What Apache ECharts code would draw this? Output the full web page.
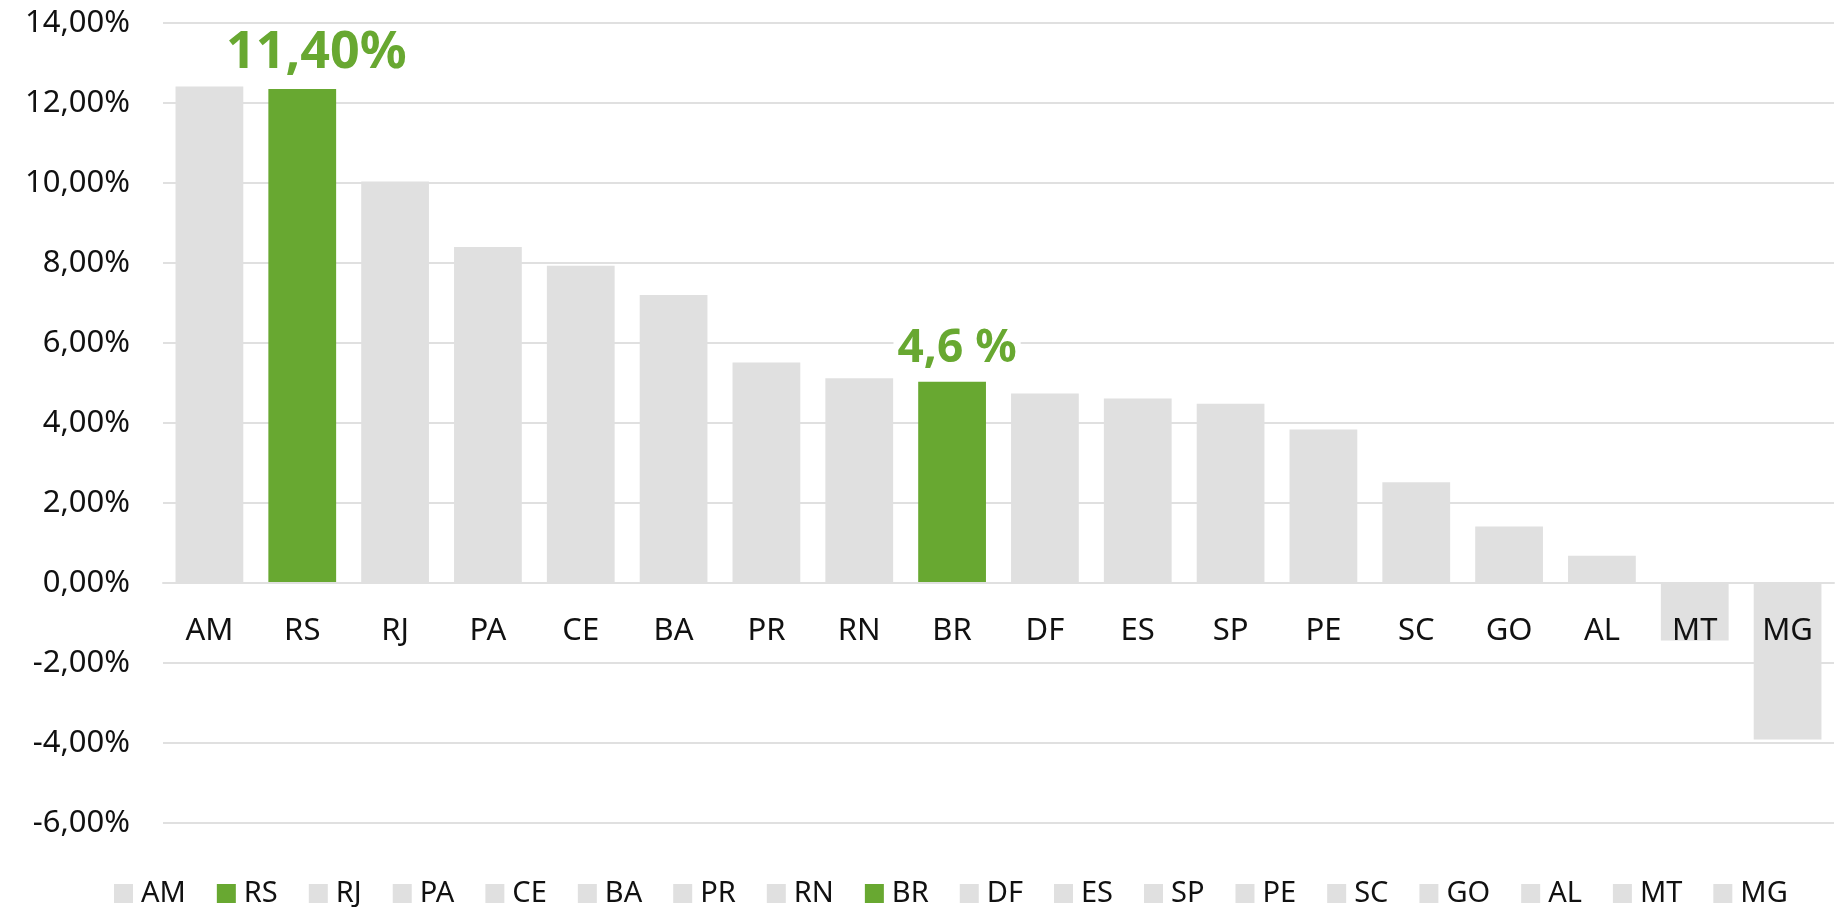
<!DOCTYPE html>
<html>
<head>
<meta charset="utf-8">
<script src="https://cdn.jsdelivr.net/npm/echarts@6/dist/echarts.min.js"></script>
<style>
  html, body { margin: 0; padding: 0; background: #fff; }
  #chart { width: 1835px; height: 907px; }
</style>
</head>
<body>
<div id="chart"></div>
<script>
// states, ordered as in the chart
const categories = ['AM', 'RS', 'RJ', 'PA', 'CE', 'BA', 'PR', 'RN', 'BR', 'DF', 'ES', 'SP', 'PE', 'SC', 'GO', 'AL', 'MT', 'MG']
// bar heights in percent
const values = [12.41, 12.35, 10.04, 8.40, 7.93, 7.20, 5.51, 5.12, 5.03, 4.74, 4.61, 4.48, 3.84, 2.52, 1.41, 0.68, -1.44, -3.91]
// highlighted states
const highlight = ['RS', 'BR']
// custom labels shown above highlighted bars
const labelTexts = { RS: '11,40%', BR: '4,6 %' }
const yTicks = [-6, -4, -2, 0, 2, 4, 6, 8, 10, 12, 14]

const GRAY = '#e0e0e0'
const GREEN = '#68a831'
const FONT = '"Noto Sans", sans-serif'

const chart = echarts.init(document.getElementById('chart'))

const series = categories.map((name, i) => {
  const isHi = highlight.includes(name)
  const data = categories.map((c, j) => (j === i ? values[i] : null))
  const s = {
    name: name,
    type: 'bar',
    stack: 'all',
    barCategoryGap: '27%',
    itemStyle: { color: isHi ? GREEN : GRAY },
    data: data,
    animation: false
  }
  if (isHi) {
    s.label = {
      show: true,
      position: 'top',
      distance: 10,
      offset: name === 'RS' ? [14, 0] : [5, 0],
      formatter: () => labelTexts[name],
      color: GREEN,
      fontFamily: FONT,
      fontWeight: 'bold',
      fontSize: name === 'RS' ? 52 : 46,
      lineHeight: name === 'RS' ? 52 : 46,
      backgroundColor: '#fff',
      padding: [0, 4]
    }
  }
  return s
})

// distance from the zero line to the grid bottom, so the category labels sit under zero
const gridTop = 23
const gridBottom = 84
const plotH = 907 - gridTop - gridBottom
const zeroOffset = plotH * (0 - yTicks[0]) / (yTicks[yTicks.length - 1] - yTicks[0])

chart.setOption({
  backgroundColor: '#fff',
  textStyle: { fontFamily: FONT },
  grid: {
    left: 163,
    right: 1,
    top: gridTop,
    bottom: gridBottom,
    containLabel: false
  },
  legend: {
    data: categories,
    left: 109,
    top: 874,
    icon: 'rect',
    itemWidth: 19,
    itemHeight: 19,
    itemGap: 31,
    textStyle: { fontSize: 29, color: '#111', fontFamily: FONT, padding: [0, 0, 0, 3] }
  },
  xAxis: {
    type: 'category',
    data: categories,
    offset: -zeroOffset,
    z: 5,
    axisLine: { show: true, onZero: false, lineStyle: { color: GRAY, width: 2 } },
    axisTick: { show: false },
    axisLabel: { color: '#111', fontSize: 31, margin: 33, fontFamily: FONT }
  },
  yAxis: {
    type: 'value',
    min: yTicks[0],
    max: yTicks[yTicks.length - 1],
    interval: 2,
    axisLine: { show: false },
    axisTick: { show: false },
    splitLine: { lineStyle: { color: GRAY, width: 2 } },
    axisLabel: {
      color: '#111',
      fontSize: 31,
      margin: 33,
      fontFamily: FONT,
      formatter: v => v.toFixed(2).replace('.', ',') + '%'
    }
  },
  series: series
})
</script>
</body>
</html>
